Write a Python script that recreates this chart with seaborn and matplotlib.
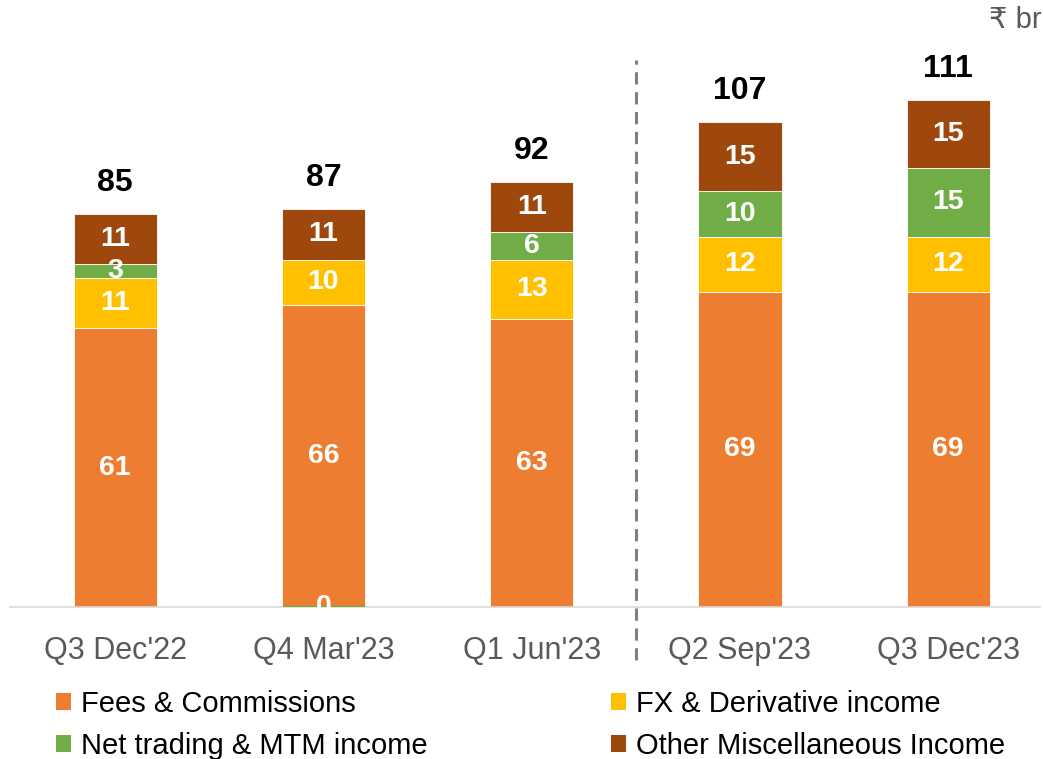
import matplotlib
matplotlib.use("Agg")
import matplotlib.pyplot as plt
import matplotlib.transforms as mtransforms
from matplotlib.patches import Patch
import numpy as np
import pandas as pd
import seaborn as sns

quarters = ["Q3 Dec'22", "Q4 Mar'23", "Q1 Jun'23", "Q2 Sep'23", "Q3 Dec'23"]
fees = [61, 66, 63, 69, 69]
fx_deriv = [11, 10, 13, 12, 12]
net_trading = [3, 0, 6, 10, 15]
other_misc = [11, 11, 11, 15, 15]
totals = [85, 87, 92, 107, 111]

series_names = ["Fees & Commissions", "FX & Derivative income",
                "Net trading & MTM income", "Other Miscellaneous Income"]
series_values = [fees, fx_deriv, net_trading, other_misc]
series_colors = ["#ED7D31", "#FFC000", "#70AD47", "#9E480E"]

sns.set_theme(style="white")
plt.rcParams["font.family"] = ["Liberation Sans", "DejaVu Sans"]

fig = plt.figure(figsize=(10.43, 7.59), dpi=100)
ax = fig.add_axes([0.0096, 0.2003, 0.9874, 0.7467])

bar_w = 0.4
seg_fs = 20.5
bottoms = np.zeros(len(quarters))
for name, vals, col in zip(series_names, series_values, series_colors):
    vals = np.asarray(vals, dtype=float)
    df = pd.DataFrame({"quarter": quarters, "value": vals})
    sns.barplot(data=df, x="quarter", y="value", bottom=bottoms, color=col,
                width=bar_w, saturation=1, edgecolor="white", linewidth=0.6,
                ax=ax, errorbar=None)
    for i, v in enumerate(vals):
        if v == 0:
            ax.hlines(0, i - bar_w / 2, i + bar_w / 2, color=col, lw=2.5, zorder=3)
            ax.text(i, 0, f"{v:.0f}", ha="center", va="center", color="white",
                    fontsize=seg_fs, fontweight="bold", zorder=4)
        else:
            ax.text(i, bottoms[i] + v / 2, f"{v:.0f}", ha="center", va="center",
                    color="white", fontsize=seg_fs, fontweight="bold", zorder=4)
    bottoms = bottoms + np.where(vals > 0, vals, 0)

for i, t in enumerate(totals):
    ax.text(i, bottoms[i] + 6.8, f"{t}", ha="center", va="center",
            color="black", fontsize=23, fontweight="bold")

ax.set_xlim(-0.505, 4.44)
ax.set_ylim(0, 124)
ax.set_yticks([])
ax.set_xlabel("")
ax.set_ylabel("")
for s in ["top", "right", "left"]:
    ax.spines[s].set_visible(False)
ax.spines["bottom"].set_color("#D9D9D9")
ax.spines["bottom"].set_linewidth(1.2)
ax.tick_params(axis="x", length=0, pad=21, labelsize=22, labelcolor="#595959")

# dashed separator between the older and newer quarters
trans = mtransforms.blended_transform_factory(ax.transData, ax.transAxes)
ax.plot([2.5, 2.5], [-0.094, 0.965], transform=trans, clip_on=False,
        color="#7F7F7F", lw=2.2, ls=(0, (4, 2.5)))

fig.text(0.999, 0.973, "₹ br", ha="right", va="center", fontsize=21,
         color="#595959")

handles = [Patch(facecolor=c, edgecolor="none") for c in series_colors]
legend_kw = dict(loc="upper left", frameon=False, fontsize=21,
                 handlelength=0.5, handleheight=0.5, handletextpad=0.35,
                 labelspacing=0.48, borderpad=0, borderaxespad=0)
leg1 = fig.legend([handles[0], handles[2]], [series_names[0], series_names[2]],
                  bbox_to_anchor=(56 / 1043, 1 - 690 / 759), **legend_kw)
leg2 = fig.legend([handles[1], handles[3]], [series_names[1], series_names[3]],
                  bbox_to_anchor=(611 / 1043, 1 - 690 / 759), **legend_kw)
for leg in (leg1, leg2):
    for txt in leg.get_texts():
        txt.set_color("black")

fig.savefig("out.png", dpi=100)
